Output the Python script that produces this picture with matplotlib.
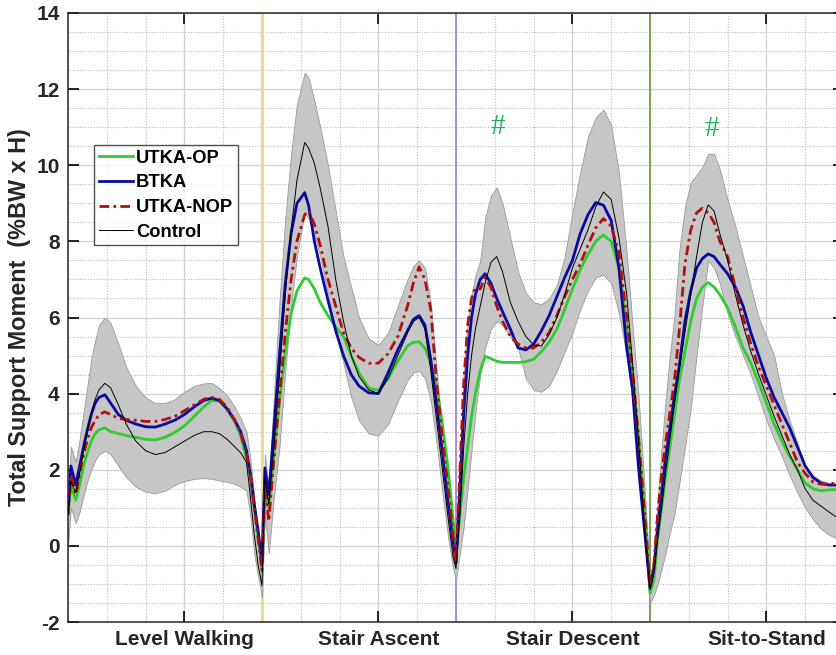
import matplotlib.pyplot as plt
from matplotlib.ticker import MultipleLocator

plt.rcParams['font.family'] = ['Liberation Sans', 'DejaVu Sans']
plt.rcParams['axes.unicode_minus'] = False

# percent-of-task positions, four tasks laid end to end (0-100, 100-200, ...)
x = [0, 1.5, 4, 6, 8, 10, 12, 14, 16, 19, 22, 26, 30, 35, 40, 45, 50, 55, 60, 65, 70, 74, 78, 82, 86, 89, 92, 94, 96, 98, 100,
     101.5, 103.5, 106, 109, 112, 115, 118, 122, 124, 127, 130, 134, 138, 142, 146, 150, 155, 160, 165, 170, 175, 178, 181, 184, 187, 190, 193, 196, 198.5, 200,
     202, 204, 206, 208, 210, 212.5, 215, 218, 221, 224, 228, 232, 236, 240, 244, 248, 252, 256, 260, 264, 268, 272, 276, 280, 284, 288, 291, 294, 297, 300,
     302, 304, 306, 308, 310, 312.5, 315, 318, 321, 324, 327, 330, 333, 336, 340, 344, 348, 352, 356, 360, 364, 368, 372, 376, 380, 384, 388, 392, 396, 400]

utka_op = [0.8, 1.6, 1.2, 1.6, 2.1, 2.45, 2.75, 2.95, 3.05, 3.1, 3.0, 2.95, 2.9, 2.85, 2.8, 2.78, 2.85, 2.98, 3.15, 3.4, 3.65, 3.82, 3.8, 3.6, 3.25, 2.9, 2.3, 1.8, 1.0, 0.2, -0.6,
           1.4, 1.0, 2.3, 3.8, 5.1, 6.1, 6.7, 7.04, 7.0, 6.75, 6.4, 6.05, 5.75, 5.5, 5.0, 4.55, 4.15, 4.08, 4.4, 4.85, 5.25, 5.35, 5.36, 5.2, 4.8, 4.2, 3.2, 2.0, 0.7, -0.3,
           0.8, 1.8, 2.6, 3.4, 4.0, 4.6, 4.98, 4.92, 4.85, 4.82, 4.82, 4.82, 4.84, 4.9, 5.1, 5.35, 5.7, 6.2, 6.75, 7.25, 7.65, 8.0, 8.17, 8.0, 7.3, 5.8, 4.5, 2.9, 1.1, -1.25,
           -0.9, 0.2, 1.0, 1.8, 2.5, 3.4, 4.3, 5.1, 5.9, 6.5, 6.8, 6.92, 6.8, 6.6, 6.25, 5.75, 5.2, 4.8, 4.3, 3.75, 3.2, 2.75, 2.35, 2.0, 1.65, 1.5, 1.45, 1.47, 1.48, 1.5]

btka = [0.9, 2.1, 1.6, 2.1, 2.6, 3.05, 3.45, 3.75, 3.9, 3.97, 3.75, 3.45, 3.3, 3.2, 3.13, 3.12, 3.2, 3.3, 3.45, 3.65, 3.82, 3.88, 3.82, 3.6, 3.3, 3.0, 2.5, 1.9, 1.1, 0.4, -0.4,
        2.05, 1.35, 3.0, 5.0, 6.9, 8.2, 9.0, 9.28, 8.95, 8.0, 7.3, 6.45, 5.65, 5.0, 4.5, 4.2, 4.02, 4.0, 4.55, 5.15, 5.65, 5.95, 6.05, 5.8, 4.9, 3.7, 2.45, 1.1, 0.1, -0.45,
        1.5, 3.5, 5.0, 6.0, 6.6, 7.0, 7.15, 6.9, 6.5, 6.15, 5.7, 5.2, 5.15, 5.3, 5.65, 6.05, 6.55, 7.05, 7.5, 8.2, 8.7, 9.02, 8.95, 8.55, 7.3, 5.2, 4.1, 2.1, 0.5, -1.1,
        -0.6, 0.5, 1.4, 2.3, 3.0, 3.9, 4.7, 5.9, 6.7, 7.3, 7.55, 7.67, 7.6, 7.4, 7.15, 6.8, 6.3, 5.6, 5.0, 4.4, 3.9, 3.5, 3.1, 2.6, 2.1, 1.8, 1.65, 1.6, 1.6, 1.6]

utka_nop = [0.8, 1.85, 1.35, 1.9, 2.4, 2.8, 3.1, 3.3, 3.45, 3.52, 3.45, 3.35, 3.32, 3.3, 3.27, 3.27, 3.32, 3.4, 3.55, 3.7, 3.85, 3.9, 3.85, 3.65, 3.3, 2.95, 2.4, 1.9, 1.0, 0.2, -0.65,
            1.6, 0.65, 2.2, 3.9, 5.6, 7.0, 8.0, 8.7, 8.8, 8.45, 7.9, 7.0, 6.3, 5.6, 5.2, 4.95, 4.8, 4.8, 5.05, 5.5, 6.3, 6.9, 7.33, 7.0, 6.2, 4.3, 2.8, 1.5, 0.3, -0.45,
            2.0, 4.3, 5.8, 6.5, 6.8, 6.75, 7.05, 6.8, 6.3, 5.9, 5.5, 5.3, 5.2, 5.2, 5.35, 5.6, 6.05, 6.55, 7.0, 7.4, 7.9, 8.35, 8.6, 8.4, 7.7, 6.0, 4.6, 2.9, 1.0, -1.0,
            -0.5, 0.9, 1.9, 2.7, 3.4, 4.3, 5.6, 7.4, 8.3, 8.75, 8.87, 8.75, 8.5, 8.0, 7.6, 6.8, 6.0, 5.3, 4.7, 4.2, 3.7, 3.2, 2.7, 2.2, 1.9, 1.68, 1.62, 1.63, 1.65, 1.65]

control = [0.8, 1.7, 1.4, 1.9, 2.5, 3.0, 3.5, 3.85, 4.1, 4.27, 4.15, 3.7, 3.2, 2.75, 2.5, 2.4, 2.45, 2.6, 2.75, 2.9, 3.0, 3.0, 2.95, 2.8, 2.6, 2.45, 2.2, 1.3, 0.3, -0.5, -1.05,
           1.8, 1.1, 2.5, 4.5, 6.6, 8.3, 9.6, 10.6, 10.45, 10.05, 9.4, 8.4, 7.0, 5.9, 5.0, 4.45, 4.1, 4.0, 4.4, 5.0, 5.6, 5.9, 6.0, 5.7, 4.6, 3.3, 2.0, 0.7, -0.3, -0.6,
           0.8, 2.6, 4.0, 5.0, 5.7, 6.3, 6.9, 7.45, 7.6, 7.2, 6.4, 5.9, 5.5, 5.28, 5.25, 5.55, 6.0, 6.6, 7.3, 7.8, 8.3, 8.9, 9.3, 9.1, 8.1, 6.6, 4.8, 2.8, 0.6, -1.15,
           -0.7, 0.2, 1.0, 1.9, 2.7, 3.7, 4.6, 5.6, 6.6, 7.6, 8.5, 8.96, 8.8, 8.2, 7.5, 6.6, 5.8, 5.1, 4.5, 3.95, 3.4, 2.9, 2.4, 2.0, 1.5, 1.2, 1.05, 0.9, 0.76, 0.7]

# control mean +/- 1 SD
band_hi = [1.5, 2.6, 2.2, 2.8, 3.5, 4.2, 4.9, 5.4, 5.8, 6.0, 5.85, 5.3, 4.7, 4.2, 3.9, 3.75, 3.75, 3.85, 4.05, 4.2, 4.27, 4.28, 4.15, 3.95, 3.65, 3.35, 3.0, 2.3, 1.3, 0.2, -0.7,
           2.4, 1.5, 3.8, 6.4, 8.6, 10.3, 11.6, 12.43, 12.3, 11.7, 11.0, 10.0, 8.8, 7.6, 6.8, 6.0, 5.45, 5.28, 5.6, 6.3, 7.0, 7.35, 7.5, 7.3, 6.4, 4.6, 3.0, 1.6, 0.4, -0.2,
           2.3, 4.5, 5.9, 6.6, 7.1, 7.5, 8.6, 9.2, 9.42, 9.0, 8.1, 7.2, 6.65, 6.4, 6.35, 6.5, 6.85, 7.6, 8.75, 9.8, 10.75, 11.25, 11.46, 11.05, 9.8, 7.7, 5.8, 4.0, 1.7, -0.8,
           -0.3, 1.2, 2.6, 3.8, 4.9, 6.0, 7.7, 8.9, 9.55, 9.75, 9.95, 10.3, 10.3, 9.9, 9.1, 8.4, 7.6, 6.8, 6.0, 5.5, 5.0, 4.0, 3.3, 2.7, 2.1, 1.85, 1.72, 1.65, 1.6, 1.6]

band_lo = [0.0, 1.0, 0.6, 0.9, 1.3, 1.7, 2.0, 2.25, 2.4, 2.5, 2.4, 2.1, 1.8, 1.55, 1.42, 1.38, 1.45, 1.6, 1.7, 1.76, 1.78, 1.76, 1.72, 1.68, 1.63, 1.55, 1.45, 0.8, -0.2, -0.8, -1.35,
           0.8, -0.2, 1.2, 2.6, 4.6, 6.3, 7.6, 8.77, 8.6, 8.2, 7.6, 6.6, 5.6, 4.8, 3.9, 3.3, 2.95, 2.9, 3.2, 3.8, 4.35, 4.55, 4.6, 4.4, 3.8, 2.7, 1.4, 0.2, -0.6, -0.9,
           -0.2, 0.5, 1.5, 2.5, 3.5, 4.5, 5.2, 5.7, 5.9, 5.8, 5.5, 5.2, 4.4, 4.1, 4.05, 4.2, 4.6, 5.1, 5.6, 6.2, 6.7, 7.05, 7.12, 6.9, 6.1, 5.0, 3.8, 2.0, 0.3, -1.5,
           -1.3, -1.0, -0.6, -0.2, 0.3, 0.8, 1.6, 2.6, 3.6, 5.0, 6.3, 7.5, 7.3, 6.9, 6.1, 5.5, 5.0, 4.5, 3.9, 3.3, 2.8, 2.35, 1.85, 1.4, 1.0, 0.7, 0.45, 0.3, 0.2, 0.15]

tasks = ['Level Walking', 'Stair Ascent', 'Stair Descent', 'Sit-to-Stand']
task_ticks = [60, 160, 260, 360]
boundaries = [100, 200, 300]
boundary_colors = ['#ecd98c', '#a57cc4', '#6f9c4c']
boundary_widths = [2.0, 1.2, 1.3]
sig_marks = [(221.6, 11.0), (332, 10.95)]

fig = plt.figure(figsize=(8.37, 6.55), dpi=100)
ax = fig.add_axes([68 / 837, 33 / 655, 776 / 837, 609 / 655])

ax.fill_between(x, band_lo, band_hi, facecolor='#c6c6c6', edgecolor='#9a9a9a', lw=0.6, zorder=2)

for b, c, w in zip(boundaries, boundary_colors, boundary_widths):
    ax.axvline(b, color=c, lw=w, zorder=1.5)

ax.plot(x, utka_op, color='#2ecc2e', lw=2, label='UTKA-OP', zorder=4)
ax.plot(x, btka, color='#0a0aa0', lw=2, label='BTKA', zorder=5)
ax.plot(x, utka_nop, color='#b01010', lw=2, ls=(0, (3.5, 1.5, 1, 1.5)), label='UTKA-NOP', zorder=6)
ax.plot(x, control, color='black', lw=0.7, label='Control', zorder=7)

for mx, my in sig_marks:
    ax.text(mx, my, '#', color='#1db34f', fontsize=21, family=['Liberation Serif', 'DejaVu Serif'],
            ha='center', va='center', zorder=8)

ax.set_xlim(0, 400)
ax.set_ylim(-2, 14)
ax.set_xticks(task_ticks)
ax.set_xticklabels(tasks, fontsize=15, fontweight='bold', color='#262626')
ax.xaxis.set_minor_locator(MultipleLocator(20))
ax.yaxis.set_major_locator(MultipleLocator(2))
ax.yaxis.set_minor_locator(MultipleLocator(0.5))
for lab in ax.get_yticklabels():
    lab.set_fontsize(15)
    lab.set_fontweight('bold')
    lab.set_color('#262626')

ax.grid(which='major', color='#d2d2d2', lw=1, ls='-', zorder=0)
ax.grid(which='minor', color='#bcbcbc', lw=0.8, ls=(0, (1, 1.5)), zorder=0)
ax.set_axisbelow(True)

ax.tick_params(which='major', direction='in', length=8, width=1.2, top=True, right=True, pad=6)
ax.tick_params(which='minor', length=0)
for s in ax.spines.values():
    s.set_color('#262626')
    s.set_linewidth(1.1)

ax.set_ylabel('Total Support Moment  (%BW x H)', fontsize=16.8, fontweight='bold', color='#262626', labelpad=4)

leg = ax.legend(loc='upper left', bbox_to_anchor=(26 / 776, 477 / 609), borderaxespad=0,
                prop={'weight': 'bold', 'size': 13.2}, frameon=True, fancybox=False,
                handlelength=1.9, handletextpad=0.15, labelspacing=0.42, borderpad=0.25)
leg.get_frame().set_edgecolor('#262626')
leg.get_frame().set_linewidth(1)
leg.set_zorder(10)

fig.savefig('out.png', dpi=100)
